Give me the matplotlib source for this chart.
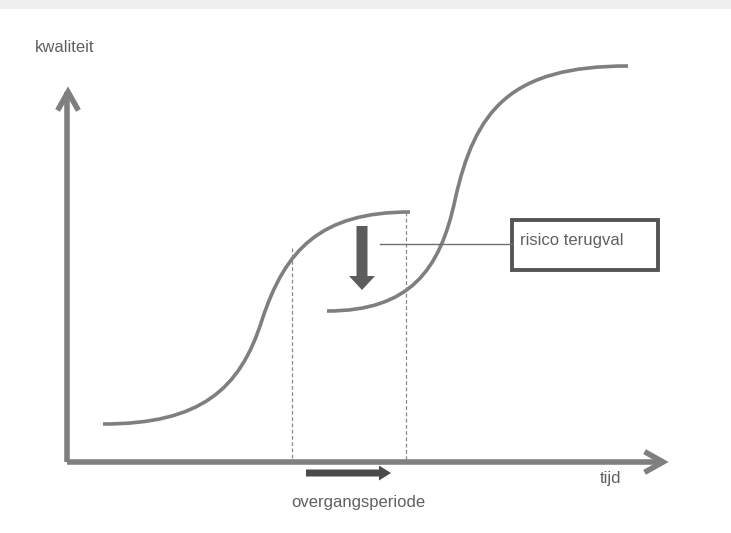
import matplotlib.pyplot as plt
from matplotlib.path import Path
from matplotlib.patches import PathPatch, FancyArrow, Rectangle

# bezier control points of the two quality curves (pixel coords)
curve1 = [(103, 424), (200, 424), (240, 390), (262, 320),
          (285, 250), (320, 212), (410, 212)]
curve2 = [(327, 311), (410, 311), (440, 270), (455, 200),
          (475, 110), (510, 66), (628, 66)]
dashed_x = [292, 406]
dashed_top = [248, 212]
labels = {'y': 'kwaliteit', 'x': 'tijd', 'box': 'risico terugval',
          'period': 'overgangsperiode'}

fig = plt.figure(figsize=(7.31, 5.33), dpi=100)
ax = fig.add_axes([0, 0, 1, 1])
ax.set_xlim(0, 731)
ax.set_ylim(533, 0)
ax.axis('off')
plt.rcParams['font.family'] = ['Liberation Sans', 'DejaVu Sans']

ax.add_patch(Rectangle((0, 0), 731, 9, color='#efefef', lw=0))

grey = '#7f7f7f'
codes = [Path.MOVETO] + [Path.CURVE4] * 6
for c in (curve1, curve2):
    ax.add_patch(PathPatch(Path(c, codes), fill=False, ec=grey, lw=2.6))

# axes with chevron heads
ax.plot([67, 67], [462, 92], color=grey, lw=4, solid_capstyle='butt')
ax.plot([67, 659], [462, 462], color=grey, lw=4, solid_capstyle='butt')
ax.plot([59, 68, 77], [108, 92, 108], color=grey, lw=4, solid_joinstyle='miter')
ax.plot([647, 663, 647], [453, 462, 471], color=grey, lw=4, solid_joinstyle='miter')

for x, top in zip(dashed_x, dashed_top):
    ax.plot([x, x], [top, 462], color='#888888', lw=0.9, ls=(0, (3, 2)))

# drop arrow
ax.add_patch(FancyArrow(362, 226, 0, 64, width=11, head_width=26, head_length=14,
                        length_includes_head=True, color='#5c5c5c', lw=0))
# period arrow
ax.add_patch(FancyArrow(306, 473, 85, 0, width=7, head_width=15, head_length=12,
                        length_includes_head=True, color='#4a4a4a', lw=0))

ax.plot([380, 512], [244, 244], color='#707070', lw=1)
ax.add_patch(Rectangle((512, 220), 146, 50, fill=False, ec='#555555', lw=2.8))

tc = '#606060'
fs = 12
ax.text(35, 48, labels['y'], fontsize=fs, color=tc, va='center', ha='left')
ax.text(600, 478, labels['x'], fontsize=fs, color=tc, va='center', ha='left')
ax.text(520, 240, labels['box'], fontsize=fs, color=tc, va='center', ha='left')
ax.text(358, 503, labels['period'], fontsize=fs, color=tc, va='center', ha='center')

fig.savefig('out.png', dpi=100)
